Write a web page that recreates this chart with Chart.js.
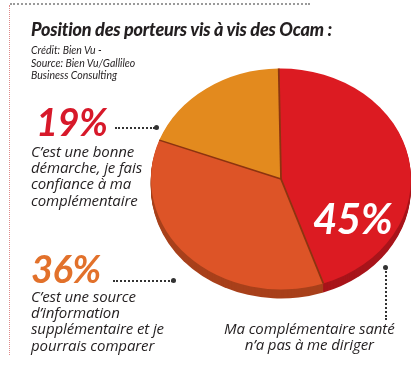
<!DOCTYPE html>
<html>
<head>
<meta charset="utf-8">
<script src="https://cdn.jsdelivr.net/npm/chart.js@4"></script>
<style>
  html, body { margin: 0; padding: 0; background: #fff; }
  #wrap { position: relative; width: 420px; height: 372px; overflow: hidden; font-family: Lato, "Open Sans", sans-serif; color: #231f20; }
  #pie { position: absolute; left: 0; top: 0; }
  .frame-top { position: absolute; left: 10px; top: 3px; width: 300px; border-top: 2px dotted #9a9a9a; }
  .frame-left { position: absolute; left: 9px; top: 5px; height: 350px; border-left: 1.5px dotted #e08a8a; }
  .t { position: absolute; white-space: nowrap; }
  #title { left: 31px; top: 18px; font-size: 18px; font-weight: 900; font-style: italic; letter-spacing: -0.2px; }
  #credit { left: 31px; top: 44px; font-size: 10.5px; font-style: italic; line-height: 12.5px; }
  .pct { font-size: 38px; font-weight: 700; font-style: italic; letter-spacing: -0.5px; }
  .desc { font-family: "Open Sans", Lato, sans-serif; font-size: 15px; font-style: italic; line-height: 16.2px; letter-spacing: -0.1px; }
  .lead-h { position: absolute; border-top: 2px dotted #333; height: 0; }
  .lead-v { position: absolute; border-left: 2px dotted #333; width: 0; }
  .dot { position: absolute; width: 5px; height: 5px; border-radius: 50%; background: #333; }
</style>
</head>
<body>
<div id="wrap">
  <canvas id="pie" width="420" height="372"></canvas>
  <div class="frame-top"></div>
  <div class="frame-left"></div>
  <div class="t" id="title">Position des porteurs vis à vis des Ocam :</div>
  <div class="t" id="credit">Crédit: Bien Vu -<br>Source: Bien Vu/Gallileo<br>Business Consulting</div>

  <div class="t pct" id="p19" style="left:36px; top:98px; color:#d7192a;"></div>
  <div class="lead-h" style="left:115px; top:127px; width:40px;"></div>
  <div class="dot" style="left:154px; top:125px;"></div>
  <div class="t desc" id="d19" style="left:31px; top:143px;"></div>

  <div class="t pct" id="p36" style="left:31px; top:245px; color:#e2712b;"></div>
  <div class="lead-h" style="left:113px; top:280px; width:60px;"></div>
  <div class="dot" style="left:171px; top:278px;"></div>
  <div class="t desc" id="d36" style="left:31px; top:288px;"></div>

  <div class="t pct" id="p45" style="left:313px; top:193px; color:#fff; font-size:42px;"></div>
  <div class="dot" style="left:383px; top:265px;"></div>
  <div class="lead-v" style="left:385px; top:268px; height:52px;"></div>
  <div class="t desc" id="d45" style="left:224px; top:320px; text-align:center;"></div>
</div>
<script>
// data
const labels = [
  "Ma complémentaire santé\nn’a pas à me diriger",
  "C’est une source\nd’information\nsupplémentaire et je\npourrais comparer",
  "C’est une bonne\ndémarche, je fais\nconfiance à ma\ncomplémentaire"
];
const values = [45, 36, 19];
const colors = ['#dc1b22', '#dd5427', '#e38a1e'];
const sideColors = ['#a8141a', '#a8401b', '#a8631a'];

// text labels from the data
const ids = [['p45', 'd45'], ['p36', 'd36'], ['p19', 'd19']];
ids.forEach(([p, d], i) => {
  document.getElementById(p).innerText = values[i] + '%';
  document.getElementById(d).innerHTML = labels[i].split('\n').join('<br>');
});

const squash = 0.85;   // pie seen from above at an angle
const depth = 9;       // thickness of the pie edge in px

function squashCtx(ctx, meta, offset) {
  const a = meta.data[0];
  ctx.translate(0, offset);
  ctx.translate(a.x, a.y);
  ctx.scale(1, squash);
  ctx.translate(-a.x, -a.y);
}

const tiltPlugin = {
  id: 'tilt',
  beforeDatasetsDraw(chart) {
    const ctx = chart.ctx;
    const meta = chart.getDatasetMeta(0);
    // edge of the pie, stacked layers
    for (let d = depth; d >= 1; d--) {
      ctx.save();
      squashCtx(ctx, meta, d);
      meta.data.forEach((arc, i) => {
        ctx.beginPath();
        ctx.moveTo(arc.x, arc.y);
        ctx.arc(arc.x, arc.y, arc.outerRadius, arc.startAngle, arc.endAngle);
        ctx.closePath();
        ctx.fillStyle = sideColors[i];
        ctx.fill();
      });
      ctx.restore();
    }
    ctx.save();
    squashCtx(ctx, meta, 0);
  },
  afterDatasetsDraw(chart) {
    const ctx = chart.ctx;
    ctx.restore();
    const meta = chart.getDatasetMeta(0);
    // dark seams between slices
    ctx.save();
    squashCtx(ctx, meta, 0);
    ctx.strokeStyle = '#8c3410';
    ctx.lineWidth = 1.8;
    meta.data.forEach(arc => {
      ctx.beginPath();
      ctx.moveTo(arc.x, arc.y);
      ctx.lineTo(arc.x + Math.cos(arc.startAngle) * arc.outerRadius,
                 arc.y + Math.sin(arc.startAngle) * arc.outerRadius);
      ctx.stroke();
    });
    ctx.restore();
  }
};

new Chart(document.getElementById('pie'), {
  type: 'pie',
  data: {
    labels: labels,
    datasets: [{
      data: values,
      backgroundColor: colors,
      borderWidth: 0
    }]
  },
  options: {
    responsive: false,
    animation: false,
    rotation: -1,
    layout: { padding: { left: 151, right: 9, top: 49, bottom: 63 } },
    plugins: { legend: { display: false }, tooltip: { enabled: false } }
  },
  plugins: [tiltPlugin]
});
</script>
</body>
</html>
